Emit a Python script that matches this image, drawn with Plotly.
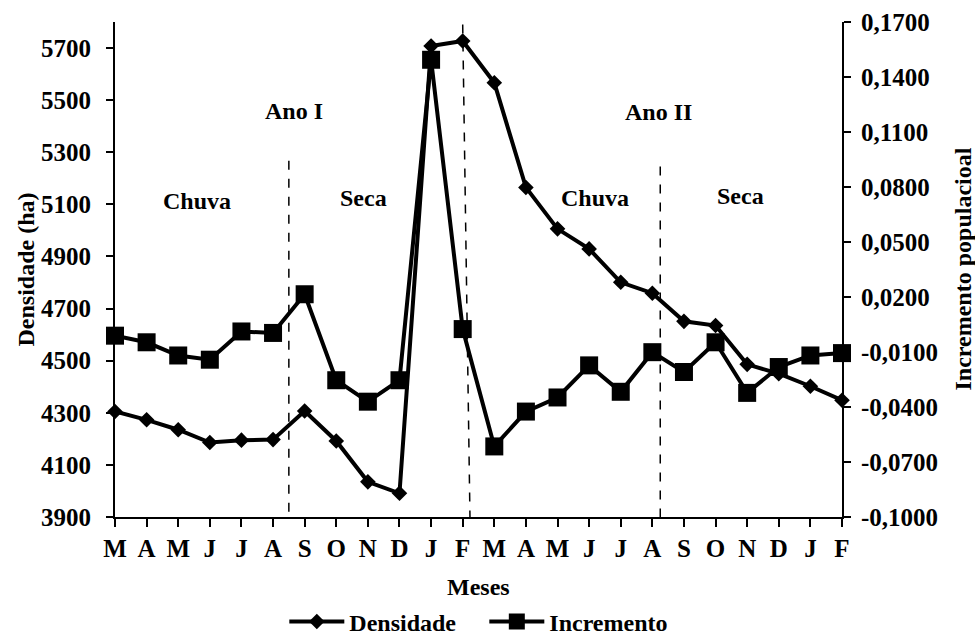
import plotly.graph_objects as go

months = ["M", "A", "M", "J", "J", "A", "S", "O", "N", "D", "J", "F",
          "M", "A", "M", "J", "J", "A", "S", "O", "N", "D", "J", "F"]
densidade = [4305, 4273, 4235, 4186, 4195, 4197, 4307, 4192, 4035, 3991, 5708, 5727,
             5567, 5165, 5006, 4929, 4801, 4759, 4651, 4635, 4486, 4450, 4402, 4348]
incremento = [-0.0011, -0.0047, -0.0119, -0.0142, 0.0012, 0.0004, 0.0215, -0.0254,
              -0.0371, -0.0254, 0.1494, 0.0025, -0.0615, -0.0425, -0.0348, -0.0173,
              -0.0317, -0.0101, -0.0209, -0.0047, -0.0323, -0.0182, -0.0119, -0.0106]
left_ticks = [3900, 4100, 4300, 4500, 4700, 4900, 5100, 5300, 5500, 5700]
left_ticktext = ["3900", "4100", "4300", "4500", "4700", "4900", "5100", "5300", "5500", "5700"]
right_ticks = [-0.10, -0.07, -0.04, -0.01, 0.02, 0.05, 0.08, 0.11, 0.14, 0.17]
right_ticktext = ["-0,1000", "-0,0700", "-0,0400", "-0,0100", "0,0200", "0,0500",
                  "0,0800", "0,1100", "0,1400", "0,1700"]

x = list(range(len(months)))
FONT = "Liberation Serif, Times New Roman, Tinos, serif"
bold = dict(family=FONT, size=24, color="black", weight="bold")
tickbold = dict(family=FONT, size=25, color="black", weight="bold")

fig = go.Figure()
fig.add_trace(go.Scatter(
    x=x, y=densidade, name="Densidade", mode="lines+markers",
    line=dict(color="black", width=4),
    marker=dict(symbol="diamond", size=12, color="black"),
    cliponaxis=False, yaxis="y"))
fig.add_trace(go.Scatter(
    x=x, y=incremento, name="Incremento", mode="lines+markers",
    line=dict(color="black", width=4),
    marker=dict(symbol="square", size=18, color="black"),
    cliponaxis=False, yaxis="y2"))

# dashed season separators
dash_lines = [((5.5, 5267), (5.5, 3900)), ((11.0, 5790), (11.23, 3900)), ((17.25, 5245), (17.25, 3900))]
for (x0, y0), (x1, y1) in dash_lines:
    fig.add_shape(type="line", xref="x", yref="y", x0=x0, y0=y0, x1=x1, y1=y1,
                  line=dict(color="black", width=1.5, dash="dash"))

labels = [("Ano I", 5.66, 5459), ("Chuva", 2.6, 5114), ("Seca", 7.85, 5125),
          ("Ano II", 17.18, 5455), ("Chuva", 15.17, 5125), ("Seca", 19.79, 5133)]
for t, ax, ay in labels:
    fig.add_annotation(text=t, x=ax, y=ay, xref="x", yref="y", showarrow=False, font=bold)

fig.add_annotation(text="Densidade (ha)", xref="paper", yref="paper", x=0, y=0.5,
                   xanchor="center", yanchor="middle",
                   xshift=-90, textangle=-90, showarrow=False, font=bold)
fig.add_annotation(text="Incremento populacioal", xref="paper", yref="paper", x=1, y=0.5,
                   xanchor="center", yanchor="middle",
                   xshift=120, textangle=-90, showarrow=False, font=bold)
fig.add_annotation(text="Meses", xref="paper", yref="paper", x=0.5, y=0,
                   xanchor="center", yanchor="middle",
                   yshift=-70, showarrow=False, font=bold)

fig.update_layout(
    width=975, height=635,
    margin=dict(l=115, r=133, t=22, b=118, autoexpand=False),
    plot_bgcolor="white", paper_bgcolor="white",
    font=bold,
    showlegend=True,
    legend=dict(orientation="h", x=0.508, xanchor="center", y=-0.212, yanchor="middle",
                font=bold, itemwidth=55, entrywidth=130, traceorder="normal"),
    xaxis=dict(range=[0, 23], tickvals=x, ticktext=months, showgrid=False, zeroline=False,
               showline=True, linecolor="black", linewidth=2, ticks="outside",
               ticklen=8, tickwidth=2, tickcolor="black", tickfont=tickbold, automargin=False),
    yaxis=dict(range=[3900, 5800], tickvals=left_ticks, ticktext=left_ticktext,
               showgrid=False, zeroline=False, showline=True, linecolor="black",
               linewidth=2, ticks="outside", ticklen=7, tickwidth=2, tickcolor="black",
               tickfont=tickbold, automargin=False, ticklabelstandoff=10),
    yaxis2=dict(range=[-0.1, 0.17], tickvals=right_ticks, ticktext=right_ticktext,
                overlaying="y", side="right", showgrid=False, zeroline=False,
                showline=True, linecolor="black", linewidth=2, ticks="outside",
                ticklen=7, tickwidth=2, tickcolor="black", tickfont=tickbold,
                automargin=False, ticklabelstandoff=5),
)

fig.write_html("out.html", config={"displayModeBar": False},
               post_script="document.body.style.margin='0px';")
